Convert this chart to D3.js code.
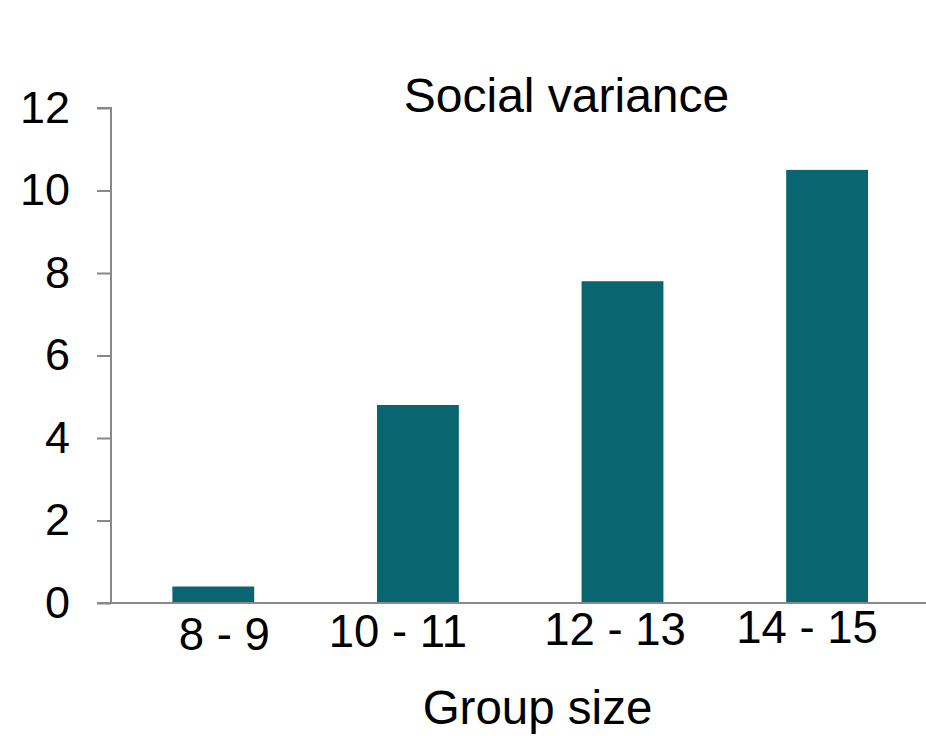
<!DOCTYPE html>
<html><head><meta charset="utf-8">
<script src="https://cdn.jsdelivr.net/npm/d3@7"></script>
<style>body{margin:0;background:#fff;} svg{display:block;font-family:"Liberation Sans",Arial,sans-serif;}</style>
</head><body>
<script>
const categories = ["8 - 9", "10 - 11", "12 - 13", "14 - 15"];
const values = [0.4, 4.8, 7.8, 10.5];
const yTicks = [0, 2, 4, 6, 8, 10, 12];
const title = "Social variance";
const xTitle = "Group size";

// layout nudges for the category labels (as placed in the original)
const labelDx = [11, -20, -7.5, -20];
const labelBaseline = [650, 647, 645, 643];

const W = 926, H = 736;
const svg = d3.select("body").append("svg").attr("width", W).attr("height", H);

const x = d3.scaleBand().domain(categories).range([111, 929.4]).paddingInner(0.6).paddingOuter(0.3);
const y = d3.scaleLinear().domain([0, 12]).range([603, 108]);
const axisColor = "#898989";

// bars
svg.selectAll("rect.bar").data(values).join("rect")
  .attr("class", "bar")
  .attr("x", (d, i) => x(categories[i]))
  .attr("width", x.bandwidth())
  .attr("y", d => y(d))
  .attr("height", d => y(0) - y(d))
  .attr("fill", "#09656f");

// y axis
const yAxis = svg.append("g").attr("transform", "translate(111,0)")
  .call(d3.axisLeft(y).tickValues(yTicks).tickSize(14).tickPadding(27).tickFormat(d3.format("d")));
yAxis.select(".domain").attr("stroke", axisColor).attr("stroke-width", 2).attr("d", `M-14,${y(12)}H0V${y(0)}`);
yAxis.selectAll(".tick line").attr("stroke", axisColor).attr("stroke-width", 2);
yAxis.selectAll(".tick text").attr("font-size", 45).attr("fill", "#000").attr("font-family", "Liberation Sans, Arial, sans-serif");

// x axis line
svg.append("line").attr("x1", 97).attr("x2", W).attr("y1", y(0)).attr("y2", y(0))
  .attr("stroke", axisColor).attr("stroke-width", 2);

// category labels
svg.selectAll("text.cat").data(categories).join("text")
  .attr("class", "cat")
  .attr("x", (d, i) => x(d) + x.bandwidth() / 2 + labelDx[i])
  .attr("y", (d, i) => labelBaseline[i])
  .attr("text-anchor", "middle")
  .attr("font-size", 45.5)
  .attr("fill", "#000")
  .text(d => d);

// title
svg.append("text").attr("x", 566.5).attr("y", 112).attr("text-anchor", "middle")
  .attr("font-size", 48).attr("fill", "#000").text(title);

// x title
svg.append("text").attr("x", 537.5).attr("y", 724).attr("text-anchor", "middle")
  .attr("font-size", 47.5).attr("fill", "#000").text(xTitle);
</script>
</body></html>
